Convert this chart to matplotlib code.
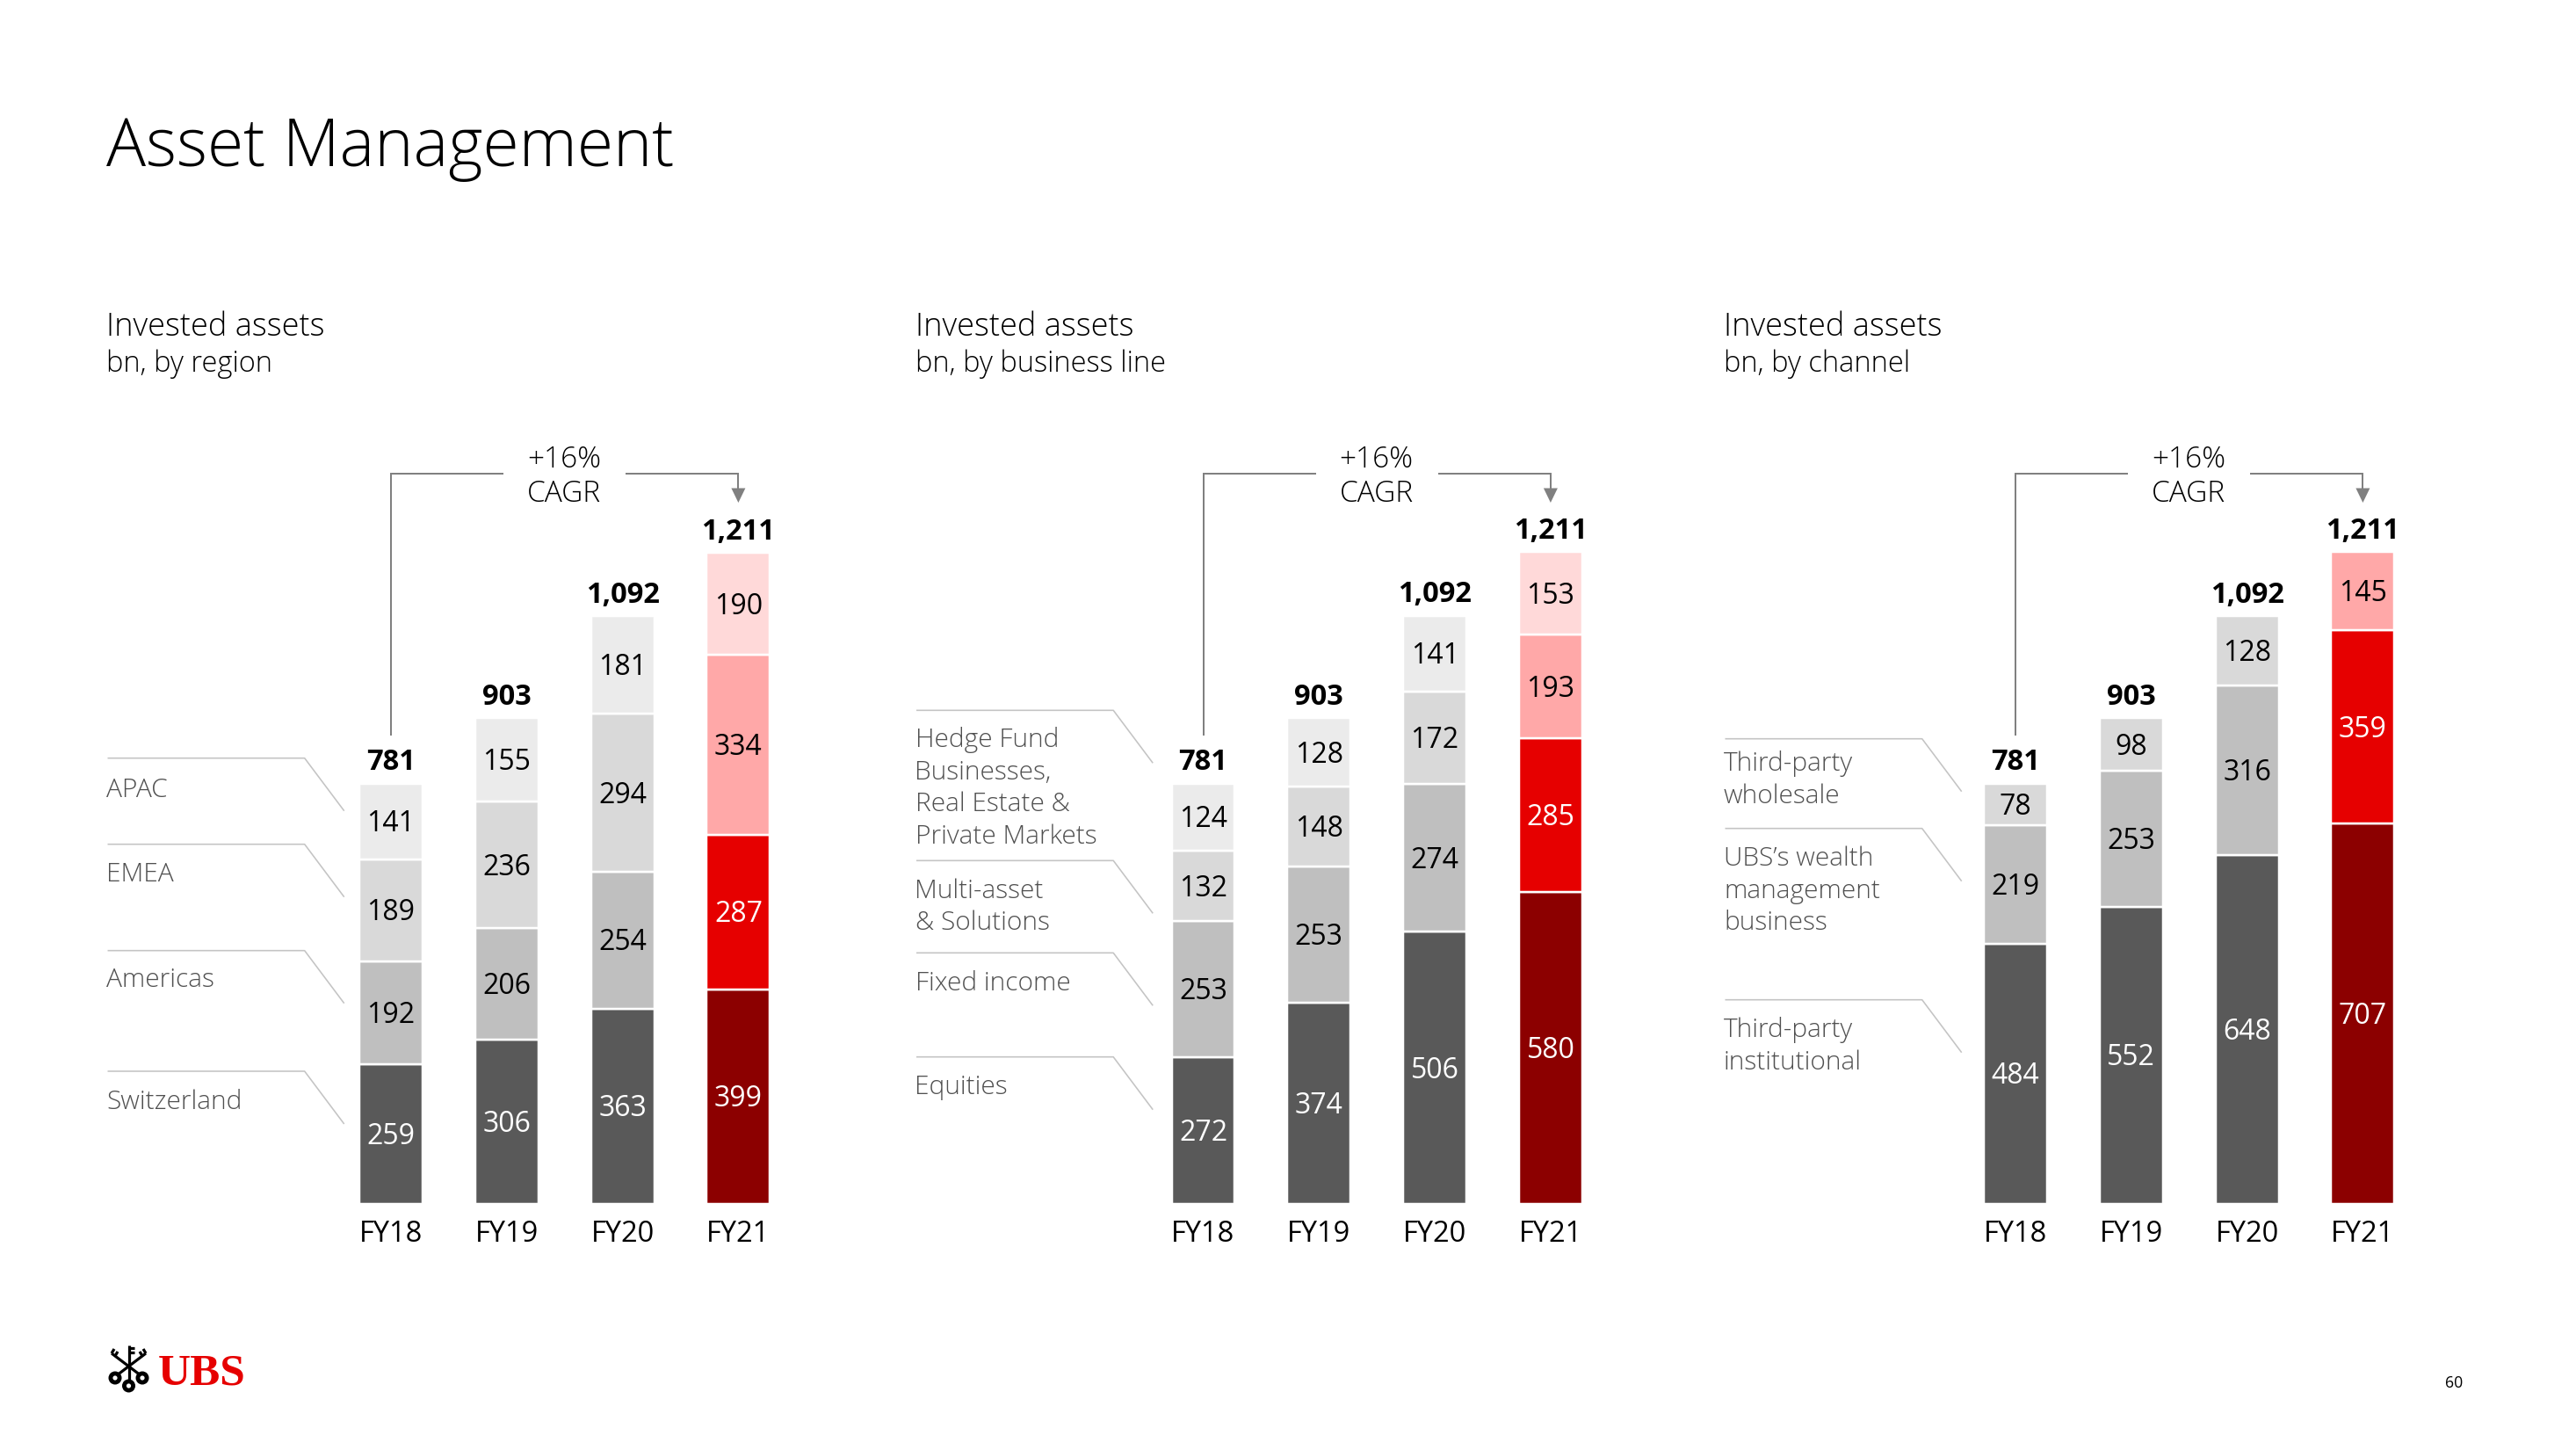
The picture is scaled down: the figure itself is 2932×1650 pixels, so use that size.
import matplotlib
matplotlib.use("Agg")
import matplotlib.pyplot as plt
from matplotlib.patches import Polygon, Circle

# ---------------- data ----------------
years = ["FY18", "FY19", "FY20", "FY21"]
totals = [781, 903, 1092, 1211]

region_names = ["Switzerland", "Americas", "EMEA", "APAC"]          # bottom -> top
region_switzerland = [259, 306, 363, 399]
region_americas = [192, 206, 254, 287]
region_emea = [189, 236, 294, 334]
region_apac = [141, 155, 181, 190]

business_names = ["Equities", "Fixed income", "Multi-asset & Solutions",
                  "Hedge Fund Businesses, Real Estate & Private Markets"]
business_equities = [272, 374, 506, 580]
business_fixed_income = [253, 253, 274, 285]
business_multi_asset = [132, 148, 172, 193]
business_hedge_re_pm = [124, 128, 141, 153]

channel_names = ["Third-party institutional", "UBS's wealth management business",
                 "Third-party wholesale"]
channel_institutional = [484, 552, 648, 707]
channel_ubs_wm = [219, 253, 316, 359]
channel_wholesale = [78, 98, 128, 145]

cagr_text = ["+16%", "CAGR"]
subtitles = ["bn, by region", "bn, by business line", "bn, by channel"]

# ---------------- layout / style ----------------
W, H = 2932, 1650
FONT = "Open Sans"
fig = plt.figure(figsize=(W / 100, H / 100), dpi=100)
fig.patch.set_facecolor("white")

ov = fig.add_axes([0, 0, 1, 1])
ov.set_xlim(0, W)
ov.set_ylim(H, 0)
ov.axis("off")

GRAYS = ["#595959", "#bfbfbf", "#d9d9d9", "#ebebeb"]
REDS = ["#8c0000", "#e60000", "#ffa8a8", "#ffd9d9"]
LABEL_GRAY = "#505050"
LEADER = "#c4c4c4"
BRACKET = "#808080"

BAR_X0 = 445.0       # first bar centre, panel 1 (px)
BAR_STEP = 131.8     # spacing between bars (px)
PANEL_STEP = 924.5   # spacing between panels (px)
TEXT_X0 = 121.0
TEXT_STEP = 920.5
BASE_Y = 1370.0
TOP_Y = 628.4

# title
ov.text(TEXT_X0, 189.3, "Asset Management", family=FONT, weight=300,
        fontsize=54, ha="left", va="baseline", color="black")

panels = [
    ([region_switzerland, region_americas, region_emea, region_apac],
     [(["APAC"], 862.7, 906.7), (["EMEA"], 960.7, 1003.3),
      (["Americas"], 1081.7, 1123.3), (["Switzerland"], 1219.0, 1261.7)]),
    ([business_equities, business_fixed_income, business_multi_asset, business_hedge_re_pm],
     [(["Hedge Fund", "Businesses,", "Real Estate &", "Private Markets"], 808.3, 850.0),
      (["Multi-asset", "& Solutions"], 979.3, 1021.7),
      (["Fixed income"], 1084.3, 1126.7), (["Equities"], 1202.7, 1245.0)]),
    ([channel_institutional, channel_ubs_wm, channel_wholesale],
     [(["Third-party", "wholesale"], 840.7, 877.3),
      (["UBS\u2019s wealth", "management", "business"], 942.7, 985.0),
      (["Third-party", "institutional"], 1137.7, 1180.0)]),
]

LINE_GAP = 36.7
px_pt = 0.72

for p, (layers, labels) in enumerate(panels):
    tx = TEXT_X0 + TEXT_STEP * p
    ov.text(tx, 381.7, "Invested assets", family=FONT, weight=300, fontsize=26,
            ha="left", va="baseline", color="black")
    ov.text(tx, 422.7, subtitles[p], family=FONT, weight=300, fontsize=23.5,
            ha="left", va="baseline", color="black")

    # category labels with leader lines
    for lines, ly, by in labels:
        ov.plot([tx + 1.5, tx + 225.7, tx + 270.7], [ly, ly, ly + 60],
                color=LEADER, lw=1.6 * px_pt, solid_capstyle="butt")
        for k, t in enumerate(lines):
            ov.text(tx, by + k * LINE_GAP, t, family=FONT, weight=300, fontsize=21.5,
                    ha="left", va="baseline", color=LABEL_GRAY)

    # CAGR bracket
    b0 = BAR_X0 + PANEL_STEP * p
    b3 = b0 + 3 * BAR_STEP
    ov.plot([b0, b0, b0 + 127.3], [836, 539.3, 539.3], color=BRACKET,
            lw=2 * px_pt, solid_joinstyle="miter")
    ov.plot([b0 + 268.3, b3, b3], [539.3, 539.3, 557], color=BRACKET,
            lw=2 * px_pt, solid_joinstyle="miter")
    ov.add_patch(Polygon([(b3 - 8, 555.5), (b3 + 8, 555.5), (b3, 572)],
                         closed=True, color=BRACKET, lw=0))
    ov.text(b0 + 197, 531.7, cagr_text[0], family=FONT, weight=300, fontsize=24,
            ha="center", va="baseline", color="black")
    ov.text(b0 + 197, 571.0, cagr_text[1], family=FONT, weight=300, fontsize=24,
            ha="center", va="baseline", color="black")

    # bar axes
    left = b0 - 0.5 * BAR_STEP
    ax = fig.add_axes([left / W, (H - BASE_Y) / H, 4 * BAR_STEP / W, (BASE_Y - TOP_Y) / H])
    ax.set_xlim(-0.5, 3.5)
    ax.set_ylim(0, max(totals))
    ax.axis("off")
    x = list(range(len(years)))
    bottoms = [0] * len(years)
    for li, vals in enumerate(layers):
        cols = [GRAYS[li]] * 3 + [REDS[li]]
        ax.bar(x, vals, bottom=bottoms, width=0.546, color=cols,
               edgecolor="white", linewidth=2.5 * px_pt)
        for i, v in enumerate(vals):
            if li == 0 or (li == 1 and i == 3):
                tc = "white"
            else:
                tc = "black"
            ax.annotate(str(v), (i, bottoms[i] + v / 2), xytext=(0, -11.5),
                        textcoords="offset pixels", ha="center", va="baseline",
                        family=FONT, fontsize=23, color=tc, annotation_clip=False)
        bottoms = [b + v for b, v in zip(bottoms, vals)]
    for i in x:
        ax.annotate(f"{totals[i]:,}", (i, bottoms[i]), xytext=(0, 15.5),
                    textcoords="offset pixels", ha="center", va="baseline",
                    family=FONT, weight="bold", fontsize=23.5, color="black",
                    annotation_clip=False)
        ax.annotate(years[i], (i, 0), xytext=(0, -43.3), textcoords="offset pixels",
                    ha="center", va="baseline", family=FONT, fontsize=23.5,
                    color="black", annotation_clip=False)

# ---------------- footer: logo + page number ----------------
ov.text(180, 1576, "UBS", family="Liberation Serif", weight="bold", fontsize=37,
        color="#e60000", ha="left", va="baseline")
# simplified three keys emblem
k = dict(color="black", lw=3.2 * px_pt, solid_capstyle="butt")
ov.plot([146.5, 146.5], [1531, 1572], **k)
ov.plot([133, 166], [1565, 1540], **k)
ov.plot([160, 127], [1565, 1540], **k)
for (x0, y0, dx, dy) in [(146.5, 1534, 6, 0), (146.5, 1539, 6, 0),
                         (166, 1540, -3, -5), (162, 1543, -3, -5),
                         (127, 1540, 3, -5), (131, 1543, 3, -5)]:
    ov.plot([x0, x0 + dx], [y0, y0 + dy], **k)
for (cx, cy) in [(131, 1568), (146.5, 1577), (162, 1568)]:
    ov.add_patch(Circle((cx, cy), 7.5, color="black", lw=0))
    ov.add_patch(Circle((cx, cy), 2.6, color="white", lw=0))

ov.text(2793, 1579.3, "60", family=FONT, fontsize=12.7, ha="center", va="baseline",
        color="black")

fig.savefig("out.png", dpi=100, facecolor="white")
